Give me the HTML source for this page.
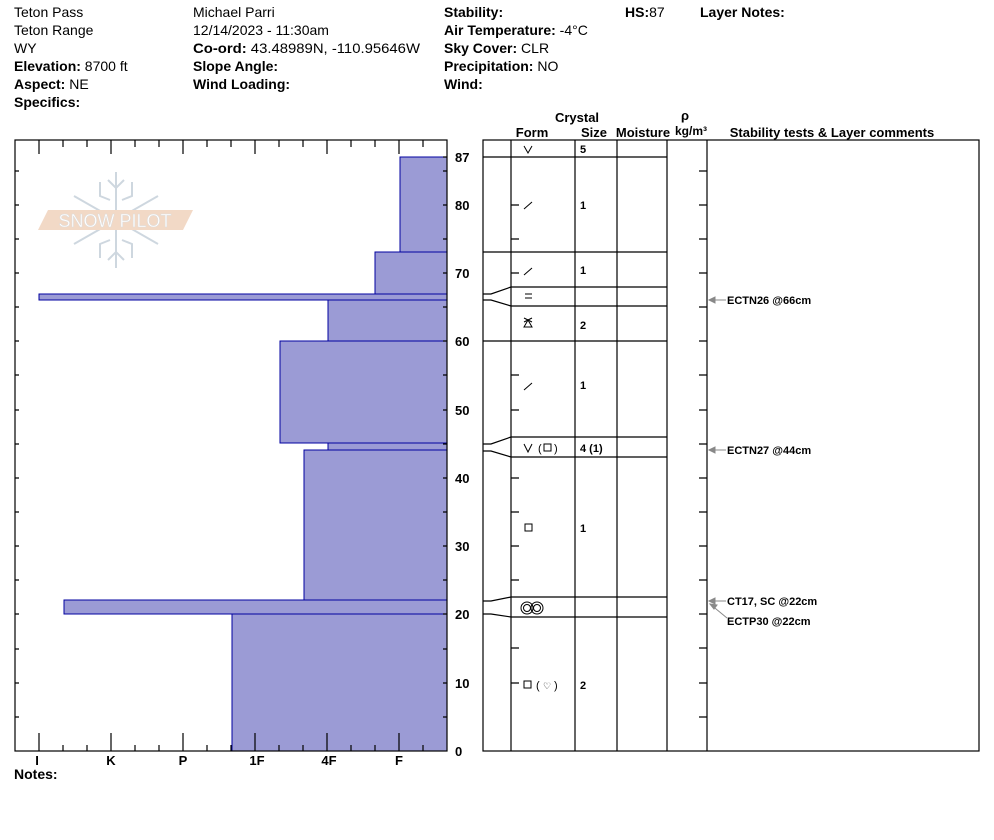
<!DOCTYPE html>
<html><head><meta charset="utf-8"><style>
body{margin:0;background:#fff;}
svg{display:block;font-family:"Liberation Sans",sans-serif;}
.b{font-weight:bold}
.t{font-size:14px}
.s{font-family:"Liberation Sans",sans-serif;font-weight:bold;font-size:11px}
.c{font-family:"Liberation Sans",sans-serif;font-weight:bold;font-size:13px}
</style></head><body>
<svg width="994" height="840" viewBox="0 0 994 840" xmlns="http://www.w3.org/2000/svg">
<g class="t">
<text x="14" y="17">Teton Pass</text>
<text x="14" y="35">Teton Range</text>
<text x="14" y="53">WY</text>
<text x="14" y="71"><tspan class="b">Elevation:</tspan> 8700 ft</text>
<text x="14" y="89"><tspan class="b">Aspect:</tspan> NE</text>
<text x="14" y="107" class="b">Specifics:</text>
<text x="193" y="17">Michael Parri</text>
<text x="193" y="35">12/14/2023 - 11:30am</text>
<text x="193" y="53" textLength="227" lengthAdjust="spacingAndGlyphs"><tspan class="b">Co-ord:</tspan> 43.48989N, -110.95646W</text>
<text x="193" y="71" class="b">Slope Angle:</text>
<text x="193" y="89" class="b">Wind Loading:</text>
<text x="444" y="17" class="b">Stability:</text>
<text x="444" y="35"><tspan class="b">Air Temperature:</tspan> -4°C</text>
<text x="444" y="53"><tspan class="b">Sky Cover:</tspan> CLR</text>
<text x="444" y="71"><tspan class="b">Precipitation:</tspan> NO</text>
<text x="444" y="89" class="b">Wind:</text>
<text x="625" y="17"><tspan class="b">HS:</tspan>87</text>
<text x="700" y="17" class="b">Layer Notes:</text>
<text x="14" y="779" class="b">Notes:</text>
</g>
<!-- watermark -->
<g opacity="0.5">
<g stroke="#9fb0c0" stroke-width="2" fill="none">
<line x1="116" y1="172" x2="116" y2="268"/>
<line x1="74" y1="196" x2="158" y2="244"/>
<line x1="74" y1="244" x2="158" y2="196"/>
<polyline points="108,180 116,188 124,180"/><polyline points="108,260 116,252 124,260"/>
<polyline points="100,182 100,196 110,200"/><polyline points="132,182 132,196 122,200"/>
<polyline points="100,258 100,244 110,240"/><polyline points="132,258 132,244 122,240"/>
</g>
<polygon points="48,210 193,210 183,230 38,230" fill="#e6b48e"/>
<text x="115" y="227" text-anchor="middle" font-family="Liberation Sans" font-size="18" fill="#fff" stroke="#bbb" stroke-width="0.5">SNOW PILOT</text>
</g>
<!-- bars -->
<g fill="#9b9bd5" stroke="#0000a0" stroke-width="1">
<rect x="400" y="157" width="47" height="95"/>
<rect x="375" y="252" width="72" height="42"/>
<rect x="39" y="294" width="408" height="6"/>
<rect x="328" y="300" width="119" height="41"/>
<rect x="280" y="341" width="167" height="102"/>
<rect x="328" y="443" width="119" height="7"/>
<rect x="304" y="450" width="143" height="150"/>
<rect x="64" y="600" width="383" height="14"/>
<rect x="232" y="614" width="215" height="137"/>
</g>
<g stroke="#000" stroke-width="1.2" fill="none">
<rect x="15" y="140" width="432" height="611"/>
<path d="M39 140v14M111 140v14M183 140v14M255 140v14M327 140v14M399 140v14M63 140v7M87 140v7M135 140v7M159 140v7M207 140v7M231 140v7M279 140v7M303 140v7M351 140v7M375 140v7M423 140v7"/>
<path d="M39 751v-18M111 751v-18M183 751v-18M255 751v-18M327 751v-18M399 751v-18M63 751v-6M87 751v-6M135 751v-6M159 751v-6M207 751v-6M231 751v-6M279 751v-6M303 751v-6M351 751v-6M375 751v-6M423 751v-6"/>
<path d="M15 717h4M15 683h4M15 649h4M15 614h4M15 580h4M15 546h4M15 512h4M15 478h4M15 444h4M15 410h4M15 375h4M15 341h4M15 307h4M15 273h4M15 239h4M15 205h4M15 171h4"/>
<path d="M447 717h-4M447 683h-4M447 649h-4M447 614h-4M447 580h-4M447 546h-4M447 512h-4M447 478h-4M447 444h-4M447 410h-4M447 375h-4M447 341h-4M447 307h-4M447 273h-4M447 239h-4M447 205h-4M447 171h-4M447 157h-4"/>
</g>
<g class="c">
<text x="455" y="162">87</text><text x="455" y="210">80</text><text x="455" y="278">70</text><text x="455" y="346">60</text><text x="455" y="415">50</text><text x="455" y="483">40</text><text x="455" y="551">30</text><text x="455" y="619">20</text><text x="455" y="688">10</text><text x="455" y="756">0</text>
</g>
<g class="c" text-anchor="middle">
<text x="37" y="765">I</text><text x="111" y="765">K</text><text x="183" y="765">P</text><text x="257" y="765">1F</text><text x="329" y="765">4F</text><text x="399" y="765">F</text>
</g>
<!-- right panel -->
<g class="c" text-anchor="middle">
<text x="577" y="122">Crystal</text>
<text x="532" y="137">Form</text><text x="594" y="137">Size</text><text x="643" y="137">Moisture</text>
<text x="685" y="120">ρ</text><text x="691" y="135" font-size="12">kg/m³</text>
<text x="832" y="137">Stability tests &amp; Layer comments</text>
</g>
<g stroke="#000" stroke-width="1.2" fill="none">
<rect x="483" y="140" width="496" height="611"/>
<path d="M511 140V751M575 140V751M617 140V751M667 140V751M707 140V751"/>
<path d="M483 157H667M483 252H667M483 341H667"/>
<path d="M511 287H667M511 306H667M511 437H667M511 457H667M511 597H667M511 617H667"/>
<path d="M483 294H491L511 287M483 300H491L511 306M483 444H491L511 437M483 451H491L511 457M483 601H491L511 597M483 614H491L511 617"/>
<path d="M511 683h8M511 648h8M511 580h8M511 546h8M511 512h8M511 478h8M511 410h8M511 375h8M511 273h8M511 239h8M511 205h8"/>
<path d="M707 717h-8M707 683h-8M707 648h-8M707 614h-8M707 580h-8M707 546h-8M707 512h-8M707 478h-8M707 444h-8M707 410h-8M707 375h-8M707 341h-8M707 307h-8M707 273h-8M707 239h-8M707 205h-8M707 171h-8"/>
</g>
<g stroke="#888" stroke-width="1" fill="#888">
<path d="M709 300H726"/><polygon points="709,300 715,297 715,303"/>
<path d="M709 450H726"/><polygon points="709,450 715,447 715,453"/>
<path d="M709 601H726"/><polygon points="709,601 715,598 715,604"/>
<path d="M710 604L727 618"/><polygon points="710,604 717,605 714,609"/>
</g>
<g class="s">
<text x="727" y="304">ECTN26 @66cm</text>
<text x="727" y="454">ECTN27 @44cm</text>
<text x="727" y="605">CT17, SC @22cm</text>
<text x="727" y="625">ECTP30 @22cm</text>
<text x="580" y="153">5</text><text x="580" y="209">1</text><text x="580" y="274">1</text><text x="580" y="329">2</text><text x="580" y="389">1</text><text x="580" y="452">4 (1)</text><text x="580" y="532">1</text><text x="580" y="689">2</text>
</g>
<g stroke="#000" stroke-width="1" fill="none">
<path d="M524 146L528 153L532 146"/>
<path d="M524 209L532 202"/><path d="M524 275L532 268"/>
<path d="M525 294h7M525 298h7"/>
<path d="M524 327h8L528 320Z"/><path d="M524 318l8 4M532 318l-8 4"/>
<path d="M524 390L532 383"/>
<path d="M524 444L528 452L532 444"/>
<rect x="544" y="444" width="7" height="7"/>
<rect x="525" y="524" width="7" height="7"/>
<circle cx="527" cy="608" r="6"/><circle cx="527" cy="608" r="3.5"/>
<circle cx="537" cy="608" r="6"/><circle cx="537" cy="608" r="3.5"/>
<rect x="524" y="681" width="7" height="7"/>
</g>
<g font-family="Liberation Sans" font-size="11">
<text x="538" y="452">(</text><text x="554" y="452">)</text>
<text x="536" y="689">(</text><text x="543" y="689" font-size="9">♡</text><text x="554" y="689">)</text>
</g>
</svg>
</body></html>
